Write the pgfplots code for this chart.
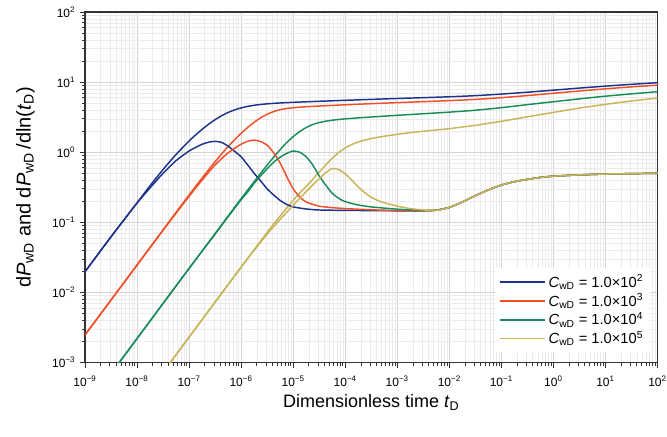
\documentclass[border=0pt]{standalone}
\usepackage{fontspec}
\setmainfont{Liberation Sans}
\usepackage{pgfplots}
\pgfplotsset{compat=1.18}
\definecolor{cblue}{RGB}{28,50,140}
\definecolor{corange}{RGB}{240,80,40}
\definecolor{cgreen}{RGB}{25,140,90}
\definecolor{cyellow}{RGB}{200,180,90}
\begin{document}
\begin{tikzpicture}
\begin{axis}[
  name=ax,
  scale only axis,
  width=429.4pt, height=262.9pt,
  xmode=log, ymode=log,
  xmin=1e-9, xmax=1e2, ymin=1e-3, ymax=1e2,
  xtick={1e-9,1e-8,1e-7,1e-6,1e-5,1e-4,1e-3,1e-2,1e-1,1,1e1,1e2},
  xticklabels={10\textsuperscript{−9},10\textsuperscript{−8},10\textsuperscript{−7},10\textsuperscript{−6},10\textsuperscript{−5},10\textsuperscript{−4},10\textsuperscript{−3},10\textsuperscript{−2},10\textsuperscript{−1},10\textsuperscript{0},10\textsuperscript{1},10\textsuperscript{2}},
  ytick={1e-3,1e-2,1e-1,1,1e1,1e2},
  yticklabels={10\textsuperscript{−3},10\textsuperscript{−2},10\textsuperscript{−1},10\textsuperscript{0},10\textsuperscript{1},10\textsuperscript{2}},
  minor xtick={2e-9,3e-9,4e-9,5e-9,6e-9,7e-9,8e-9,9e-9,2e-8,3e-8,4e-8,5e-8,6e-8,7e-8,8e-8,9e-8,2e-7,3e-7,4e-7,5e-7,6e-7,7e-7,8e-7,9e-7,2e-6,3e-6,4e-6,5e-6,6e-6,7e-6,8e-6,9e-6,2e-5,3e-5,4e-5,5e-5,6e-5,7e-5,8e-5,9e-5,2e-4,3e-4,4e-4,5e-4,6e-4,7e-4,8e-4,9e-4,2e-3,3e-3,4e-3,5e-3,6e-3,7e-3,8e-3,9e-3,2e-2,3e-2,4e-2,5e-2,6e-2,7e-2,8e-2,9e-2,0.2,0.3,0.4,0.5,0.6,0.7,0.8,0.9,2,3,4,5,6,7,8,9,20,30,40,50,60,70,80,90},
  minor ytick={2e-3,3e-3,4e-3,5e-3,6e-3,7e-3,8e-3,9e-3,2e-2,3e-2,4e-2,5e-2,6e-2,7e-2,8e-2,9e-2,0.2,0.3,0.4,0.5,0.6,0.7,0.8,0.9,2,3,4,5,6,7,8,9,20,30,40,50,60,70,80,90},
  grid=both,
  major grid style={line width=0.5pt, draw=black!17},
  minor grid style={line width=0.4pt, draw=black!8},
  tick pos=left,
  tick align=outside,
  major tick length=3.75pt,
  minor tick length=2.25pt,
  tick style={draw=black!80, line width=0.6pt},
  axis line style={draw=black!80, line width=0.9pt},
  tick label style={font=\fontsize{9}{10}\selectfont},
  xticklabel style={yshift=-2.5pt},
  xlabel={Dimensionless time \textit{t}\textsubscript{D}},
  ylabel={d\textit{P}\textsubscript{wD} and d\textit{P}\textsubscript{wD}\,/dln(\textit{t}\textsubscript{D})},
  xlabel style={font=\fontsize{13.5}{15}\selectfont, at={(axis description cs:0.5,-0.115)}, anchor=center},
  ylabel style={font=\fontsize{15}{17}\selectfont, at={(axis description cs:-0.104,0.5)}, anchor=center},
  legend style={at={(0.987,0.028)}, anchor=south east, draw=none, fill=white,
    font=\fontsize{11}{13}\selectfont, row sep=-0.6pt, inner sep=3pt},
  legend cell align=left,
  legend image code/.code={\draw[#1, line width=1.2pt] (0pt,0pt) -- (34pt,0pt);},
  every axis plot/.append style={line width=1.1pt, smooth, tension=0.4},
]
% ---------- pressure, C=1e2 ----------
\addplot[cblue] coordinates {
(1e-9,0.0197)(3.162e-9,0.0622)(1e-8,0.19)(1.778e-8,0.333)(3.162e-8,0.566)(5.623e-8,0.929)(1e-7,1.447)(1.334e-7,1.765)(1.778e-7,2.12)(2.371e-7,2.507)(3.162e-7,2.913)(4.217e-7,3.317)(5.623e-7,3.691)(7.499e-7,4.015)(1e-6,4.287)(1.334e-6,4.506)(1.778e-6,4.673)(2.371e-6,4.801)(3.162e-6,4.9)(4.217e-6,4.978)(5.623e-6,5.043)(1e-5,5.148)(1.778e-5,5.24)(3.162e-5,5.328)(1e-4,5.5)(3.162e-4,5.67)(1e-3,5.84)(3.162e-3,6.0)(1e-2,6.18)(3.162e-2,6.41)(0.1,6.75)(0.3162,7.18)(1,7.68)(3.162,8.22)(10,8.77)(31.62,9.3)(100,9.82)};
\addlegendentry{\textit{C}\textsubscript{wD} = 1.0×10\textsuperscript{2}}
% ---------- pressure, C=1e3 ----------
\addplot[corange] coordinates {
(1e-9,0.00247)(1e-8,0.0247)(3.162e-8,0.078)(5.623e-8,0.139)(1e-7,0.2455)(1.778e-7,0.428)(3.162e-7,0.733)(5.623e-7,1.205)(1e-6,1.861)(1.334e-6,2.254)(1.778e-6,2.674)(2.371e-6,3.093)(3.162e-6,3.479)(4.217e-6,3.801)(5.623e-6,4.043)(7.499e-6,4.208)(1e-5,4.316)(1.334e-5,4.392)(1.778e-5,4.453)(3.162e-5,4.558)(5.623e-5,4.654)(1e-4,4.746)(3.162e-4,4.923)(1e-3,5.095)(3.162e-3,5.264)(1e-2,5.44)(3.162e-2,5.67)(0.1,6.0)(0.3162,6.43)(1,6.93)(3.162,7.47)(10,8.02)(31.62,8.55)(100,9.05)};
\addlegendentry{\textit{C}\textsubscript{wD} = 1.0×10\textsuperscript{3}}
% ---------- pressure, C=1e4 ----------
\addplot[cgreen] coordinates {
(1e-9,2.2e-4)(1e-8,2.2e-3)(1e-7,0.022)(3.162e-7,0.069)(5.623e-7,0.123)(1e-6,0.218)(1.334e-6,0.288)(1.778e-6,0.38)(2.371e-6,0.5)(3.162e-6,0.655)(4.217e-6,0.85)(5.623e-6,1.09)(7.499e-6,1.37)(1e-5,1.67)(1.334e-5,1.97)(1.778e-5,2.25)(2.371e-5,2.48)(3.162e-5,2.65)(4.217e-5,2.77)(5.623e-5,2.86)(7.499e-5,2.93)(1e-4,2.99)(1.778e-4,3.09)(3.162e-4,3.18)(1e-3,3.36)(3.162e-3,3.54)(1e-2,3.73)(3.162e-2,3.97)(0.1,4.32)(0.3162,4.77)(1,5.25)(3.162,5.77)(10,6.3)(31.62,6.8)(100,7.3)};
\addlegendentry{\textit{C}\textsubscript{wD} = 1.0×10\textsuperscript{4}}
% ---------- pressure, C=1e5 ----------
\addplot[cyellow] coordinates {
(1e-9,2.3e-5)(1e-8,2.3e-4)(1e-7,0.0023)(1e-6,0.023)(3.162e-6,0.072)(5.623e-6,0.123)(1e-5,0.205)(1.334e-5,0.262)(1.778e-5,0.325)(2.371e-5,0.41)(3.162e-5,0.52)(4.217e-5,0.66)(5.623e-5,0.82)(7.499e-5,0.99)(1e-4,1.15)(1.334e-4,1.29)(1.778e-4,1.40)(2.371e-4,1.49)(3.162e-4,1.57)(4.217e-4,1.63)(5.623e-4,1.69)(1e-3,1.8)(1.778e-3,1.9)(3.162e-3,1.99)(5.623e-3,2.08)(1e-2,2.17)(3.162e-2,2.42)(0.1,2.76)(0.3162,3.2)(1,3.7)(3.162,4.26)(10,4.82)(31.62,5.38)(100,5.93)};
\addlegendentry{\textit{C}\textsubscript{wD} = 1.0×10\textsuperscript{5}}
% ---------- derivatives ----------
\addplot[cblue, forget plot] coordinates {
(1e-9,0.0197)(3.162e-9,0.0622)(1e-8,0.188)(1.778e-8,0.31)(3.162e-8,0.5)(5.623e-8,0.76)(1e-7,1.04)(1.334e-7,1.17)(1.778e-7,1.3)(2.371e-7,1.39)(3.162e-7,1.43)(4.217e-7,1.38)(5.623e-7,1.22)(7.499e-7,1.03)(1e-6,0.86)(1.334e-6,0.66)(1.778e-6,0.5)(2.371e-6,0.39)(3.162e-6,0.3)(4.217e-6,0.245)(5.623e-6,0.205)(7.499e-6,0.18)(1e-5,0.166)(1.778e-5,0.155)(3.162e-5,0.15)(1e-4,0.148)(3.162e-4,0.147)(1e-3,0.146)(3.162e-3,0.146)(5.623e-3,0.149)(1e-2,0.163)(1.778e-2,0.195)(3.162e-2,0.24)(5.623e-2,0.29)(0.1,0.34)(0.1778,0.38)(0.3162,0.41)(0.5623,0.437)(1,0.455)(3.162,0.475)(10,0.488)(31.62,0.495)(100,0.5)};
\addplot[corange, forget plot] coordinates {
(1e-9,0.00247)(1e-8,0.0245)(3.162e-8,0.077)(5.623e-8,0.135)(1e-7,0.235)(1.778e-7,0.4)(3.162e-7,0.66)(5.623e-7,0.98)(1e-6,1.3)(1.334e-6,1.43)(1.778e-6,1.49)(2.371e-6,1.42)(3.162e-6,1.26)(4.217e-6,0.98)(5.623e-6,0.7)(7.499e-6,0.45)(1e-5,0.3)(1.334e-5,0.23)(1.778e-5,0.195)(3.162e-5,0.17)(5.623e-5,0.162)(1e-4,0.157)(3.162e-4,0.151)(1e-3,0.147)(3.162e-3,0.146)(5.623e-3,0.149)(1e-2,0.163)(1.778e-2,0.195)(3.162e-2,0.24)(5.623e-2,0.29)(0.1,0.34)(0.1778,0.38)(0.3162,0.41)(0.5623,0.437)(1,0.455)(3.162,0.475)(10,0.488)(31.62,0.495)(100,0.5)};
\addplot[cgreen, forget plot] coordinates {
(1e-9,2.2e-4)(1e-8,2.2e-3)(1e-7,0.022)(3.162e-7,0.068)(5.623e-7,0.12)(1e-6,0.21)(1.334e-6,0.27)(1.778e-6,0.36)(2.371e-6,0.46)(3.162e-6,0.58)(4.217e-6,0.72)(5.623e-6,0.85)(7.499e-6,0.96)(1e-5,1.04)(1.334e-5,1.0)(1.778e-5,0.86)(2.371e-5,0.66)(3.162e-5,0.46)(4.217e-5,0.34)(5.623e-5,0.26)(7.499e-5,0.22)(1e-4,0.197)(1.778e-4,0.177)(3.162e-4,0.166)(1e-3,0.154)(3.162e-3,0.148)(5.623e-3,0.149)(1e-2,0.163)(1.778e-2,0.195)(3.162e-2,0.24)(5.623e-2,0.29)(0.1,0.34)(0.1778,0.38)(0.3162,0.41)(0.5623,0.437)(1,0.455)(3.162,0.475)(10,0.488)(31.62,0.495)(100,0.5)};
\addplot[cyellow, forget plot] coordinates {
(1e-9,2.3e-5)(1e-8,2.3e-4)(1e-7,0.0023)(1e-6,0.023)(3.162e-6,0.068)(5.623e-6,0.11)(1e-5,0.175)(1.334e-5,0.22)(1.778e-5,0.275)(2.371e-5,0.34)(3.162e-5,0.42)(4.217e-5,0.51)(5.623e-5,0.585)(7.499e-5,0.565)(1e-4,0.49)(1.334e-4,0.4)(1.778e-4,0.32)(2.371e-4,0.265)(3.162e-4,0.228)(4.217e-4,0.205)(5.623e-4,0.19)(1e-3,0.17)(1.778e-3,0.157)(3.162e-3,0.15)(5.623e-3,0.148)(1e-2,0.163)(1.778e-2,0.195)(3.162e-2,0.24)(5.623e-2,0.29)(0.1,0.34)(0.1778,0.38)(0.3162,0.41)(0.5623,0.437)(1,0.455)(3.162,0.475)(10,0.488)(31.62,0.495)(100,0.5)};
\end{axis}
\pgfresetboundingbox
\path ([xshift=-63.75pt,yshift=-55.1pt]ax.south west) rectangle ([xshift=7.1pt,yshift=9pt]ax.north east);
\end{tikzpicture}
\end{document}
